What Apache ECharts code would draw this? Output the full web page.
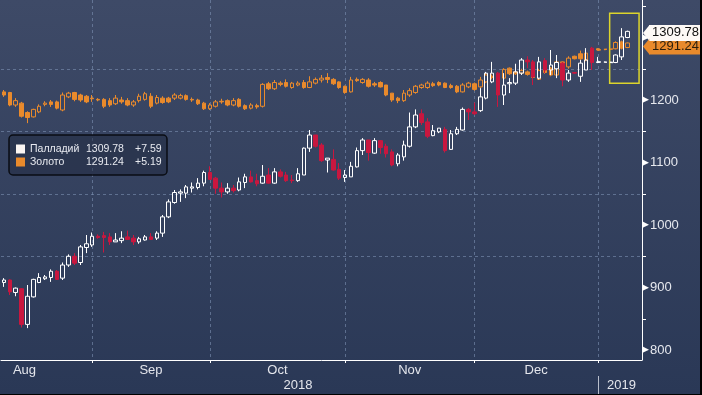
<!DOCTYPE html>
<html><head><meta charset="utf-8">
<script src="https://cdn.jsdelivr.net/npm/echarts@6/dist/echarts.min.js"></script>
<style>html,body{margin:0;padding:0;background:#000;overflow:hidden}#c{width:700px;height:394px}</style>
</head><body><div id="c"></div>
<script>
// ---- categories (weekdays) ----
const dates = [
'2018-08-10','2018-08-13','2018-08-14','2018-08-15','2018-08-16','2018-08-17','2018-08-20','2018-08-21','2018-08-22','2018-08-23','2018-08-24','2018-08-27','2018-08-28','2018-08-29','2018-08-30','2018-08-31',
'2018-09-03','2018-09-04','2018-09-05','2018-09-06','2018-09-07','2018-09-10','2018-09-11','2018-09-12','2018-09-13','2018-09-14','2018-09-17','2018-09-18','2018-09-19','2018-09-20','2018-09-21','2018-09-24','2018-09-25','2018-09-26','2018-09-27','2018-09-28',
'2018-10-01','2018-10-02','2018-10-03','2018-10-04','2018-10-05','2018-10-08','2018-10-09','2018-10-10','2018-10-11','2018-10-12','2018-10-15','2018-10-16','2018-10-17','2018-10-18','2018-10-19','2018-10-22','2018-10-23','2018-10-24','2018-10-25','2018-10-26','2018-10-29','2018-10-30','2018-10-31',
'2018-11-01','2018-11-02','2018-11-05','2018-11-06','2018-11-07','2018-11-08','2018-11-09','2018-11-12','2018-11-13','2018-11-14','2018-11-15','2018-11-16','2018-11-19','2018-11-20','2018-11-21','2018-11-22','2018-11-23','2018-11-26','2018-11-27','2018-11-28','2018-11-29','2018-11-30',
'2018-12-03','2018-12-04','2018-12-05','2018-12-06','2018-12-07','2018-12-10','2018-12-11','2018-12-12','2018-12-13','2018-12-14','2018-12-17','2018-12-18','2018-12-19','2018-12-20','2018-12-21','2018-12-24','2018-12-25','2018-12-26','2018-12-27','2018-12-28','2018-12-31',
'2019-01-01','2019-01-02','2019-01-03','2019-01-04','2019-01-07','2019-01-08','2019-01-09'
];

// ---- series: [open, close, low, high] ----
const palladium = [
[908,912,901,915],[912,893,888,913],[892,899,886,900],[898,841,836,899],[841,886,835,904],
[885,913,884,914],[908,916,907,923],[914,917,912,920],[916,926,909,929],[926,913,912,928],
[915,936,912,940],[936,950,933,953],[950,939,936,955],[940,965,936,968],[964,970,955,984],
[968,982,965,988],[982,980,978,985],[983,980,956,989],[981,973,968,987],[973,976,973,987],
[975,979,971,990],[981,977,976,991],[979,973,968,984],[973,978,970,981],[976,981,975,984],
[981,977,976,987],[979,987,976,990],[987,1013,981,1016],[1013,1037,1011,1041],[1036,1052,1034,1056],
[1051,1053,1037,1057],[1051,1061,1043,1064],[1059,1061,1052,1068],[1060,1067,1057,1075],[1067,1084,1062,1087],
[1084,1073,1072,1094],[1075,1059,1050,1077],[1059,1053,1044,1068],[1053,1059,1050,1067],[1059,1055,1052,1064],
[1056,1069,1054,1076],[1068,1077,1059,1082],[1077,1069,1068,1087],[1071,1066,1062,1082],[1067,1078,1066,1096],
[1080,1067,1066,1091],[1067,1085,1066,1091],[1085,1078,1076,1089],[1080,1071,1069,1085],[1072,1071,1067,1080],
[1071,1082,1069,1091],[1080,1123,1080,1124],[1123,1144,1117,1152],[1144,1126,1124,1144],[1128,1103,1101,1131],
[1104,1107,1084,1107],[1105,1088,1087,1121],[1089,1075,1072,1099],[1076,1080,1069,1088],[1077,1094,1077,1101],
[1093,1119,1092,1124],[1119,1136,1112,1139],[1136,1116,1103,1136],[1115,1135,1114,1139],[1135,1124,1114,1136],
[1126,1114,1108,1130],[1117,1096,1094,1121],[1098,1112,1094,1115],[1109,1128,1103,1135],[1126,1157,1124,1180],
[1157,1176,1155,1185],[1178,1164,1160,1185],[1165,1142,1139,1171],[1143,1151,1142,1160],[1149,1155,1147,1155],
[1153,1119,1116,1157],[1121,1146,1120,1152],[1146,1153,1144,1157],[1152,1185,1151,1188],[1185,1181,1168,1187],
[1181,1178,1176,1196],[1183,1205,1181,1219],[1203,1243,1201,1245],[1229,1243,1227,1261],[1243,1208,1189,1245],
[1208,1224,1192,1243],[1226,1228,1211,1235],[1227,1245,1224,1258],[1243,1264,1240,1267],[1264,1261,1251,1270],
[1261,1237,1224,1264],[1235,1261,1233,1269],[1263,1248,1243,1267],[1248,1256,1240,1280],[1250,1260,1235,1272],
[1259,1232,1222,1261],[1232,1243,1229,1248],[1244,1243,1242,1245],[1238,1259,1229,1264],[1248,1264,1248,1283],
[1283,1260,1248,1285],[1260,1261,1259,1269],null,null,[1260,1272,1259,1273],
[1269,1301,1264,1315],[1300,1309.78,1299,1311]
];
const gold = [
[1213,1208,1205,1216],[1212,1192,1190,1213],[1192,1199,1189,1203],[1195,1174,1172,1197],[1180,1172,1163,1182],
[1173,1185,1172,1186],[1181,1190,1179,1193],[1193,1195,1190,1198],[1197,1193,1189,1200],[1197,1187,1185,1199],
[1184,1208,1182,1212],[1205,1211,1203,1213],[1212,1201,1198,1213],[1208,1200,1197,1210],[1206,1197,1195,1208],
[1203,1202,1197,1208],[1201,1200,1198,1203],[1201,1190,1187,1203],[1199,1192,1189,1203],[1194,1203,1192,1208],
[1200,1197,1194,1205],[1199,1192,1190,1203],[1192,1197,1189,1200],[1199,1206,1196,1210],[1201,1210,1199,1213],
[1206,1190,1187,1211],[1195,1204,1193,1208],[1203,1196,1194,1206],[1203,1197,1195,1205],[1203,1208,1200,1211],
[1203,1207,1201,1210],[1207,1201,1199,1209],[1201,1200,1197,1204],[1200,1194,1192,1202],[1195,1186,1184,1197],
[1186,1192,1184,1195],[1190,1197,1188,1200],[1198,1197,1194,1202],[1199,1192,1190,1201],[1192,1199,1190,1203],
[1201,1190,1188,1203],[1191,1186,1184,1193],[1187,1192,1185,1195],[1191,1189,1186,1194],[1190,1225,1188,1227],
[1226,1218,1216,1229],[1218,1228,1216,1232],[1227,1225,1222,1230],[1228,1222,1220,1233],[1220,1227,1218,1229],
[1224,1227,1222,1230],[1228,1220,1218,1232],[1220,1229,1219,1238],[1227,1233,1225,1236],[1232,1235,1228,1240],
[1236,1233,1227,1243],[1233,1226,1224,1235],[1229,1220,1218,1230],[1222,1212,1210,1223],[1213,1232,1212,1237],
[1233,1231,1229,1236],[1228,1233,1226,1235],[1232,1222,1220,1235],[1226,1224,1221,1229],[1228,1221,1220,1230],
[1224,1208,1206,1224],[1211,1200,1197,1211],[1203,1199,1195,1205],[1199,1211,1197,1216],[1208,1215,1205,1219],
[1212,1222,1210,1224],[1220,1224,1218,1226],[1220,1227,1218,1230],[1226,1223,1221,1229],[1228,1224,1222,1230],
[1227,1220,1219,1228],[1223,1220,1218,1226],[1222,1213,1211,1224],[1213,1224,1212,1227],[1221,1227,1219,1229],
[1226,1217,1215,1228],[1221,1232,1219,1237],[1229,1240,1227,1243],[1238,1236,1233,1241],[1237,1235,1232,1240],
[1235,1249,1233,1251],[1251,1242,1240,1252],[1245,1242,1240,1247],[1243,1247,1241,1250],[1245,1241,1239,1247],
[1243,1236,1234,1245],[1233,1247,1232,1250],[1249,1244,1242,1251],[1251,1240,1238,1253],[1240,1261,1238,1262],
[1261,1253,1250,1262],[1253,1267,1250,1270],[1270,1266,1265,1271],[1274,1266,1264,1279],[1264,1275,1262,1279],
[1272,1280,1271,1282],[1282,1280,1279,1283],null,null,[1282,1292,1281,1294],
[1293,1283,1281,1295],[1284,1291.24,1283,1292]
];

// ---- names, legend figures, ticks ----
const seriesNames = ['Палладий', 'Золото'];
const netChanges = ['+7.59', '+5.19'];
const yTickLabels = [800, 900, 1000, 1100, 1200, 1300];
const yMinorTicks = [850, 950, 1050, 1150, 1250, 1350];
const monthLabels = [['2018-08-16','Aug','l'],['2018-09-14','Sep','m'],['2018-10-15','Oct','r'],['2018-11-15','Nov','m'],['2018-12-17','Dec','l']];
const yearLabels = [['2018-10-19','2018'],['2019-01-04','2019']];
const highlight = {from:'2019-01-02', to:'2019-01-09', low:1227, high:1339};

// ---- helpers ----
const FONT = 'Liberation Sans, Arial, sans-serif';
const PD_UP = '#ffffff', PD_DOWN = '#c8173f', GOLD = '#e98a2c', PD_TAG = '#fdf9f6';
const GRIDC = 'rgba(125,145,178,0.6)';
const TAG_DY = [1.5, 3.5];
const toCandle = arr => arr.map(d => d ? [d[0], d[1], d[2], d[3]] : ['-','-','-','-']);
function gapLine(arr) {
  const out = dates.map(() => '-');
  for (let i = 1; i < arr.length; i++) {
    if (!arr[i] && arr[i-1]) {
      let j = i; while (j < arr.length && !arr[j]) j++;
      if (j < arr.length) { out[i-1] = arr[i-1][1]; out[j] = arr[j][0]; }
    }
  }
  return out;
}
const lastClose = arr => { for (let i = arr.length-1; i >= 0; i--) if (arr[i]) return arr[i][1]; };
const lastVals = [lastClose(palladium), lastClose(gold)];
const monthEnd = dates.map((d, i) => i < dates.length-1 && d.slice(0,7) !== dates[i+1].slice(0,7));
const yearEnd = dates.map((d, i) => i < dates.length-1 && d.slice(0,4) !== dates[i+1].slice(0,4));
const mMap = {}; monthLabels.forEach(m => mMap[m[0]] = m);
const yMap = {}; yearLabels.forEach(m => yMap[m[0]] = m[1]);

const chart = echarts.init(document.getElementById('c'), null, {renderer:'canvas'});
const tag = (bg, fg, dy) => ({
  show:true, position:'end', distance:7, offset:[0, dy],
  formatter: p => Number(p.value).toFixed(2),
  backgroundColor: bg, color: fg, fontSize:13, fontFamily: FONT, padding:[2,3,1,3]
});

chart.setOption({
  animation:false,
  backgroundColor: new echarts.graphic.LinearGradient(0,0,0,1,[{offset:0,color:'#3e4a67'},{offset:1,color:'#2a3856'}]),
  textStyle:{fontFamily:FONT},
  grid:{left:1, right:58, top:0, bottom:34, containLabel:false},
  legend:{
    show:true, orient:'vertical', left:9, top:135, padding:[8,5,7,7],
    itemWidth:9, itemHeight:9, itemGap:1, selectedMode:false,
    backgroundColor:'rgba(34,44,66,0.55)', borderColor:'#0a0d14', borderWidth:1.5, borderRadius:4,
    textStyle:{color:'#e8eaf0', fontSize:10.5, lineHeight:12, fontFamily:FONT,
      rich:{n:{width:56, fontSize:10.5}, v:{width:49, fontSize:10.5}, c:{width:27, fontSize:10.5}}},
    formatter: name => { const k = seriesNames.indexOf(name); return '{n|'+name+'}{v|'+lastVals[k].toFixed(2)+'}{c|'+netChanges[k]+'}'; },
    data:[{name:seriesNames[0], icon:'rect', itemStyle:{color:'#fbf6f3', borderWidth:0}},
          {name:seriesNames[1], icon:'rect', itemStyle:{color:GOLD, borderWidth:0}}]
  },
  xAxis:[{
    type:'category', data:dates, boundaryGap:true, gridIndex:0,
    axisLine:{show:true, onZero:false, lineStyle:{color:'#ffffff', width:1}},
    axisTick:{show:true, alignWithLabel:true, interval:(i)=>monthEnd[i], length:3, lineStyle:{color:'#ffffff'}},
    axisLabel:{show:true, interval:(i, v)=>!!mMap[v], margin:4, color:'#e4e6ec', fontSize:13, fontFamily:FONT,
      formatter: v => mMap[v] ? '{'+mMap[v][2]+'|'+mMap[v][1]+'}' : '',
      rich:{l:{padding:[0,6,0,0], fontSize:13, color:'#e4e6ec'}, m:{fontSize:13, color:'#e4e6ec'}, r:{padding:[0,0,0,6], fontSize:13, color:'#e4e6ec'}}},
    splitLine:{show:true, alignWithLabel:true, interval:(i)=>monthEnd[i], lineStyle:{type:[3,3], color:GRIDC, width:1}}
  },{
    type:'category', data:dates, boundaryGap:true, gridIndex:0, position:'bottom', offset:16,
    axisLine:{show:false},
    axisTick:{show:true, alignWithLabel:true, interval:(i)=>yearEnd[i], length:20, lineStyle:{color:'#b9bfcc'}},
    axisLabel:{show:true, interval:(i, v)=>!!yMap[v], margin:3, color:'#e4e6ec', fontSize:13, fontFamily:FONT,
      formatter: v => yMap[v] || ''},
    splitLine:{show:false}
  }],
  yAxis:{
    type:'value', position:'right', min:784, max:1360, scale:true,
    axisLine:{show:true, lineStyle:{color:'#ffffff'}},
    axisTick:{show:true, customValues:yMinorTicks, length:4, lineStyle:{color:'#ffffff'}},
    axisLabel:{show:true, customValues:yTickLabels, margin:0, color:'#e6e8ee', fontSize:13, fontFamily:FONT,
      formatter: v => '{a|\u25B6}{b|'+v+'}',
      rich:{a:{fontSize:9, fontFamily:'DejaVu Sans', color:'#ffffff', padding:[0,1,0,0]}, b:{fontSize:13, color:'#e6e8ee', fontFamily:FONT}}},
    splitLine:{show:true, showMinLine:false, showMaxLine:false, lineStyle:{type:[3,3], color:GRIDC, width:1}}
  },
  series:[{
    name:seriesNames[1], type:'candlestick', data:toCandle(gold), barWidth:4,
    itemStyle:{color:'transparent', color0:GOLD, borderColor:GOLD, borderColor0:GOLD, borderWidth:1},
    markLine:{silent:true, symbol:'none', lineStyle:{color:'transparent', width:0},
      label:tag(GOLD, '#2a1e0c', TAG_DY[1]), data:[{yAxis:lastVals[1]}]}
  },{
    name:seriesNames[0], type:'candlestick', data:toCandle(palladium), barWidth:4,
    itemStyle:{color:'transparent', color0:PD_DOWN, borderColor:PD_UP, borderColor0:PD_DOWN, borderWidth:1},
    markLine:{silent:true, symbol:'none', lineStyle:{color:'transparent', width:0},
      label:tag(PD_TAG, '#111111', TAG_DY[0]), data:[{yAxis:lastVals[0]}]},
    markArea:{silent:true, itemStyle:{color:'transparent', borderColor:'#dcd42c', borderWidth:1.5},
      data:[[{xAxis:highlight.from, yAxis:highlight.low},{xAxis:highlight.to, yAxis:highlight.high}]]}
  },{
    name:'gapG', type:'line', data:gapLine(gold), connectNulls:true, symbol:'none', silent:true,
    lineStyle:{type:[3,3], width:1.5, color:GOLD}
  },{
    name:'gapP', type:'line', data:gapLine(palladium), connectNulls:true, symbol:'none', silent:true,
    lineStyle:{type:[3,3], width:1.5, color:PD_UP}
  }]
});

// pointer arrows for the last-value tags, positioned through the y scale
const rect = chart.getModel().getComponent('grid', 0).coordinateSystem.getRect();
const ax = rect.x + rect.width;
const arrow = (v, dy, col, z) => {
  const cy = chart.convertToPixel({yAxisIndex:0}, v) + dy;
  return {type:'polygon', z:z, silent:true, shape:{points:[[ax+1, cy],[ax+7.5, cy-8],[ax+7.5, cy+8]]}, style:{fill:col}};
};
chart.setOption({graphic:[arrow(lastVals[1], TAG_DY[1], GOLD, 100), arrow(lastVals[0], TAG_DY[0], PD_TAG, 101)]});
</script>
</body></html>
